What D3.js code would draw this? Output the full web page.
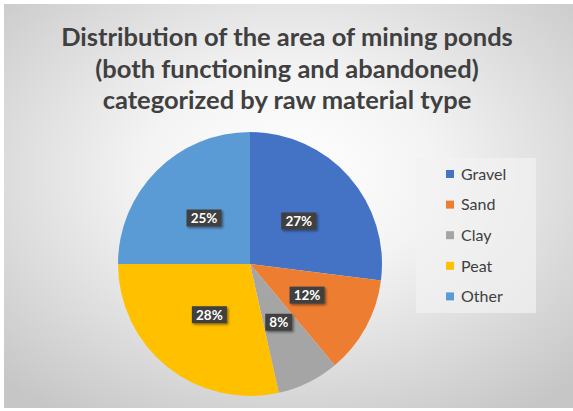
<!DOCTYPE html>
<html>
<head>
<meta charset="utf-8">
<script src="https://d3js.org/d3.v7.min.js"></script>
<style>
body { margin:0; background:#ffffff; }
svg text { font-family: Lato, "Open Sans", sans-serif; }
</style>
</head>
<body>
<svg id="viz" width="573" height="411"></svg>
<script>
var titleLines = ["Distribution of the area of mining ponds", "(both functioning and abandoned)", "categorized by raw material type"];
var categories = ["Gravel", "Sand", "Clay", "Peat", "Other"];
var values = [27.0, 11.9, 7.6, 28.5, 25.0];
var pctLabels = ["27%", "12%", "8%", "28%", "25%"];
var colors = ["#4472C4", "#ED7D31", "#A5A5A5", "#FFC000", "#5B9BD5"];

var svg = d3.select("#viz");
var defs = svg.append("defs");

// chart area background, radial grey gradient
var grad = defs.append("radialGradient").attr("id", "bg")
	.attr("cx", "50%").attr("cy", "42%").attr("r", "72%");
grad.append("stop").attr("offset", "0%").attr("stop-color", "#ffffff");
grad.append("stop").attr("offset", "35%").attr("stop-color", "#f4f4f4");
grad.append("stop").attr("offset", "100%").attr("stop-color", "#c6c6c6");

var shadow = defs.append("filter").attr("id", "lblShadow").attr("x", "-30%").attr("y", "-30%").attr("width", "160%").attr("height", "180%");
shadow.append("feDropShadow").attr("dx", 1.5).attr("dy", 1.5).attr("stdDeviation", 1.2).attr("flood-color", "#000").attr("flood-opacity", 0.45);

svg.append("rect").attr("x", 4).attr("y", 4).attr("width", 569).attr("height", 404).attr("fill", "url(#bg)");

// title
svg.append("g").selectAll("text").data(titleLines).enter().append("text")
	.attr("x", 287).attr("y", function (d, i) { return 46 + i * 31.5; })
	.attr("text-anchor", "middle")
	.style("font-size", "25.5px").style("font-weight", "bold").style("fill", "#404040")
	.text(function (d) { return d; });

// pie
var cx = 250, cy = 264, r = 132;
var pie = d3.pie().sort(null).value(function (d) { return d; });
var arcs = pie(values);
var arc = d3.arc().innerRadius(0).outerRadius(r);
var labelArc = d3.arc().innerRadius(65).outerRadius(65);

var g = svg.append("g").attr("transform", "translate(" + cx + "," + cy + ")");
g.selectAll("path.slice").data(arcs).enter().append("path")
	.attr("class", "slice")
	.attr("d", arc)
	.attr("fill", function (d, i) { return colors[i]; });

var lbl = g.selectAll("g.lbl").data(arcs).enter().append("g")
	.attr("class", "lbl")
	.attr("transform", function (d) { var c = labelArc.centroid(d); return "translate(" + c[0] + "," + c[1] + ")"; });
lbl.append("rect")
	.attr("x", function (d, i) { return pctLabels[i].length > 2 ? -17.5 : -13.5; })
	.attr("y", -8.5)
	.attr("width", function (d, i) { return pctLabels[i].length > 2 ? 35 : 27; })
	.attr("height", 17)
	.attr("fill", "#404040")
	.attr("filter", "url(#lblShadow)");
lbl.append("text")
	.attr("text-anchor", "middle").attr("dy", "0.36em")
	.style("font-size", "13.5px").style("font-weight", "bold").style("fill", "#ffffff")
	.text(function (d, i) { return pctLabels[i]; });

// legend
var legend = svg.append("g");
legend.append("rect").attr("x", 416).attr("y", 158).attr("width", 120).attr("height", 155)
	.attr("fill", "#f2f2f2").attr("fill-opacity", 0.7);
var item = legend.selectAll("g.item").data(categories).enter().append("g")
	.attr("class", "item")
	.attr("transform", function (d, i) { return "translate(446," + (174 + i * 30.6) + ")"; });
item.append("rect").attr("x", 0).attr("y", -4).attr("width", 8).attr("height", 8)
	.attr("fill", function (d, i) { return colors[i]; });
item.append("text").attr("x", 15).attr("dy", "0.36em")
	.style("font-size", "16px").style("fill", "#404040")
	.text(function (d) { return d; });
</script>
</body>
</html>
